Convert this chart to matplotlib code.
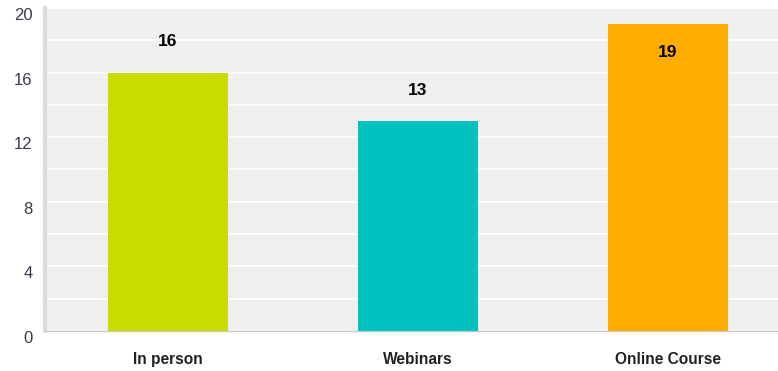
import matplotlib.pyplot as plt
import matplotlib.transforms as mtransforms

plt.rcParams['font.family'] = ['Liberation Sans', 'DejaVu Sans']

# training formats and how many attended each
categories = ['In person', 'Webinars', 'Online Course']
values = [16, 13, 19]
colors = ['#c8dc00', '#00c3c0', '#ffad00']
yticks = [0, 4, 8, 12, 16, 20]

fig = plt.figure(figsize=(7.78, 3.71), dpi=100)
ax = fig.add_axes([45 / 778, 40 / 371, 733 / 778, 323 / 371])
ax.set_facecolor('#efefef')

x = list(range(len(categories)))
ax.bar(x, values, width=0.48, color=colors, zorder=3)

ax.set_xlim(-0.49, 2.44)
ax.set_ylim(0, 20)
ax.set_yticks(yticks)
ax.set_yticks(range(0, 20, 2), minor=True)
ax.grid(axis='y', which='both', color='white', linewidth=1.2, zorder=1)
ax.tick_params(axis='both', which='both', length=0)
ax.tick_params(axis='y', labelsize=12, labelcolor='#3a3a4a', pad=9)

# nudge the y labels down a little under their gridlines
shift = mtransforms.ScaledTranslation(0, -6 / 100, fig.dpi_scale_trans)
for lab in ax.get_yticklabels():
    lab.set_transform(lab.get_transform() + shift)

ax.set_xticks(x)
ax.set_xticklabels(categories, fontweight='bold', fontsize=11.2, color='#222222')
ax.tick_params(axis='x', pad=15)

for s in ['top', 'right']:
    ax.spines[s].set_visible(False)
ax.spines['left'].set_color('#dcdcdc')
ax.spines['left'].set_linewidth(3)
ax.spines['bottom'].set_color('#c8c8c8')
ax.spines['bottom'].set_linewidth(1)

# value labels: above the bar, or inside if there's no room at the top
for xi, v in zip(x, values):
    if v + 2 > 20:
        ax.text(xi, v - 1.75, str(v), ha='center', va='center',
                fontweight='bold', fontsize=12.5, color='black', zorder=4)
    else:
        ax.text(xi, v + 1.9, str(v), ha='center', va='center',
                fontweight='bold', fontsize=12.5, color='black', zorder=4)

fig.savefig('out.png', dpi=100)
